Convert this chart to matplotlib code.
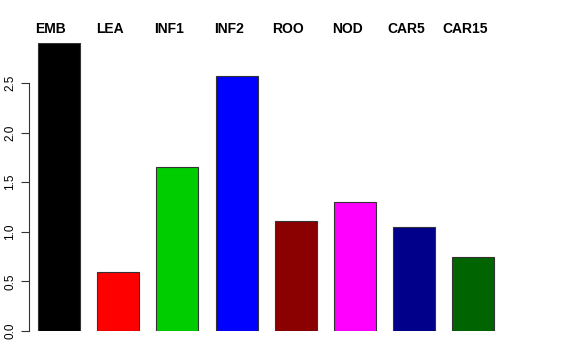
import matplotlib.pyplot as plt
import matplotlib.transforms as mtransforms
import numpy as np

plt.rcParams['font.family'] = ['Liberation Sans', 'DejaVu Sans']

labels = ['EMB', 'LEA', 'INF1', 'INF2', 'ROO', 'NOD', 'CAR5', 'CAR15']
values = [2.90, 0.595, 1.653, 2.57, 1.109, 1.30, 1.048, 0.746]
colors = ['#000000', '#FF0000', '#00CD00', '#0000FF', '#8B0000',
          '#FF00FF', '#00008B', '#006400']
yticks = [0.0, 0.5, 1.0, 1.5, 2.0, 2.5]

fig = plt.figure(figsize=(5.76, 3.6), dpi=100)
# axes box in pixels: left 29, bottom y=331, top y=43.3, right 560
ax = fig.add_axes([29 / 576, 29 / 360, (560 - 29) / 576, 287.7 / 360])

x = np.arange(len(labels))
ax.bar(x, values, width=0.71, color=colors, edgecolor='#333333', linewidth=0.8)

ax.set_xlim((29 - 59) / 59.2, (560 - 59) / 59.2)
ax.set_ylim(0, 2.9)

for s in ['top', 'right', 'bottom']:
    ax.spines[s].set_visible(False)
ax.spines['left'].set_bounds(0, 2.5)
ax.spines['left'].set_color('#333333')
ax.spines['left'].set_linewidth(0.8)

ax.set_xticks([])
ax.set_yticks(yticks)
ax.set_yticklabels(['%.1f' % t for t in yticks], rotation=90, va='center',
                   fontsize=8.5)
ax.tick_params(axis='y', length=6, width=0.8, color='#333333', pad=3)

# labels above the bars, a little left of centre (R mtext style)
trans = mtransforms.blended_transform_factory(ax.transData, fig.transFigure)
shift = mtransforms.ScaledTranslation(-8 / 100, 0, fig.dpi_scale_trans)
for xi, lab in zip(x, labels):
    ax.text(xi, 1 - 29 / 360, lab, transform=trans + shift, ha='center',
            va='center', fontsize=10, fontweight='bold', clip_on=False)

fig.savefig('out.png', dpi=100)
